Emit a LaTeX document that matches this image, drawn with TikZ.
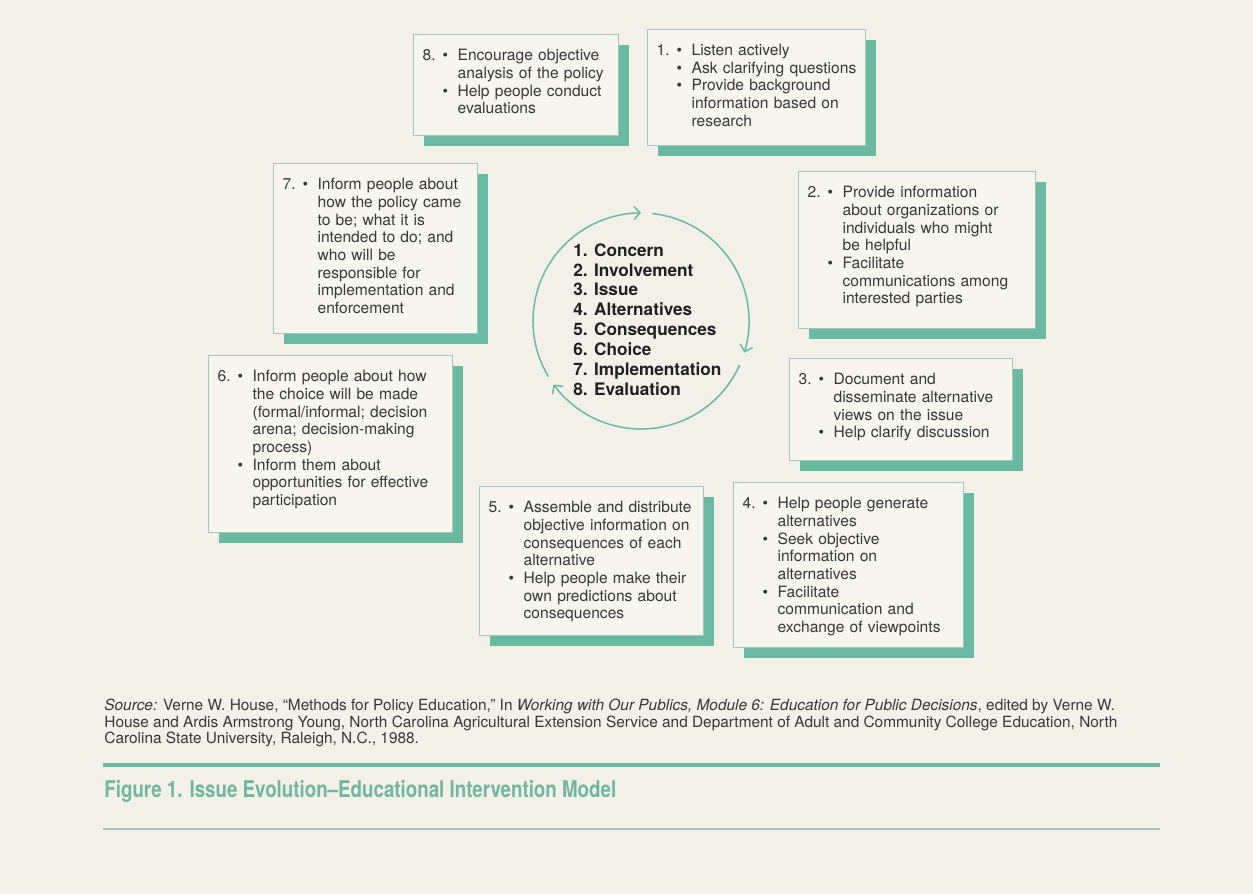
\documentclass[tikz,border=0pt]{standalone}
\usepackage{fontspec}
\setmainfont{TeX Gyre Heros}
\newfontfamily\capfont[FakeStretch=0.815]{TeX Gyre Heros}
\usetikzlibrary{arrows.meta,shadows}
\definecolor{paper}{RGB}{243,241,231}
\definecolor{boxfill}{RGB}{246,245,238}
\definecolor{boxline}{RGB}{165,198,186}
\definecolor{coreteal}{RGB}{106,185,161}
\definecolor{captionteal}{RGB}{112,182,160}
\definecolor{inkgray}{RGB}{55,55,55}
\definecolor{rulegray}{RGB}{165,198,188}

% number + bullet at the head of a box, bullet for the next points
\newcommand{\stepno}[1]{\leftskip=17.5pt\relax\hspace*{-17.5pt}\makebox[10pt][l]{#1}\makebox[7.5pt][l]{\textbullet}}
\newcommand{\bul}{\par\hspace*{-7.5pt}\makebox[7.5pt][l]{\textbullet}}
\newcommand{\stepstop}{\par}

\begin{document}
\begin{tikzpicture}[x=0.5pt,y=-0.5pt,
    task/.style={draw=boxline, line width=0.6pt, fill=boxfill, anchor=north west,
      inner xsep=4.5pt, inner ysep=6pt, text height=7pt, text width=#1,
      align=left, text=inkgray, font=\fontsize{7.8}{8.85}\selectfont,
      drop shadow={shadow xshift=5pt, shadow yshift=-5pt, fill=coreteal, opacity=1}},
    stages/.style={anchor=north west, inner sep=0pt, align=left, text=black!88,
      font=\bfseries\fontsize{8.6}{9.95}\selectfont},
    loopline/.style={draw=coreteal, line width=0.75pt,
      -{Straight Barb[length=3pt,width=6.5pt]}}]
  % paper
  \fill[paper] (0,0) rectangle (1253,894);

  % the eight intervention boxes
  \node[task=93.5pt, text depth=31.5pt] (evalu) at (413,34)
    {\stepno{8.}Encourage objective\\analysis of the policy\bul Help people conduct\\evaluations\stepstop};
  \node[task=100pt, text depth=39pt] (concern) at (647,29)
    {\stepno{1.}Listen actively\bul Ask clarifying questions\bul Provide background\\information based on\\research\stepstop};
  \node[task=93pt, text depth=66pt] (implem) at (273,163)
    {\stepno{7.}Inform people about\\how the policy came\\to be; what it is\\intended to do; and\\who will be\\responsible for\\implementation and\\enforcement\stepstop};
  \node[task=109.5pt, text depth=59.5pt] (involve) at (798,171)
    {\stepno{2.}Provide information\\about organizations or\\individuals who might\\be helpful\bul Facilitate\\communications among\\interested parties\stepstop};
  \node[task=113pt, text depth=69.5pt] (choice) at (208,355)
    {\stepno{6.}Inform people about how\\the choice will be made\\(formal/informal; decision\\arena; decision-making\\process)\bul Inform them about\\opportunities for effective\\participation\stepstop};
  \node[task=102.5pt, text depth=32pt] (issue) at (789,358)
    {\stepno{3.}Document and\\disseminate alternative\\views on the issue\bul Help clarify discussion\stepstop};
  \node[task=103pt, text depth=55.5pt] (conseq) at (479,486)
    {\stepno{5.}Assemble and distribute\\objective information on\\consequences of each\\alternative\bul Help people make their\\own predictions about\\consequences\stepstop};
  \node[task=106pt, text depth=63.5pt] (altern) at (733,482)
    {\stepno{4.}Help people generate\\alternatives\bul Seek objective\\information on\\alternatives\bul Facilitate\\communication and\\exchange of viewpoints\stepstop};

  % stage list and the cycle around it
  \coordinate (hub) at (641,321);
  \node[stages] (stagelist) at (573,243)
    {1. Concern\\2. Involvement\\3. Issue\\4. Alternatives\\5. Consequences\\6. Choice\\7. Implementation\\8. Evaluation};
  \draw[loopline] (hub) ++(211:54pt) arc[start angle=211, end angle=90, radius=54pt];
  \draw[loopline] (hub) ++(84:54pt) arc[start angle=84, end angle=-17, radius=54pt];
  \draw[loopline] (hub) ++(-24:54pt) arc[start angle=-24, end angle=-144, radius=54pt];

  % source and caption
  \node[anchor=north west, inner sep=0pt, align=left, text=inkgray,
    font=\fontsize{7.7}{8.1}\selectfont] (credit) at (104,699)
    {\textit{Source:} Verne W. House, ``Methods for Policy Education,'' In \textit{Working with Our Publics, Module 6: Education for Public Decisions}, edited by Verne W.\\
     House and Ardis Armstrong Young, North Carolina Agricultural Extension Service and Department of Adult and Community College Education, North\\
     Carolina State University, Raleigh, N.C., 1988.};
  \draw[coreteal, line width=1.8pt] (103,765) -- (1160,765);
  \node[anchor=base west, inner sep=0pt, text=captionteal,
    font=\capfont\bfseries\fontsize{11.5}{13}\selectfont] (title) at (104,797)
    {Figure 1. Issue Evolution\textendash Educational Intervention Model};
  \draw[rulegray, line width=0.7pt] (103,829) -- (1160,829);
\end{tikzpicture}
\end{document}
